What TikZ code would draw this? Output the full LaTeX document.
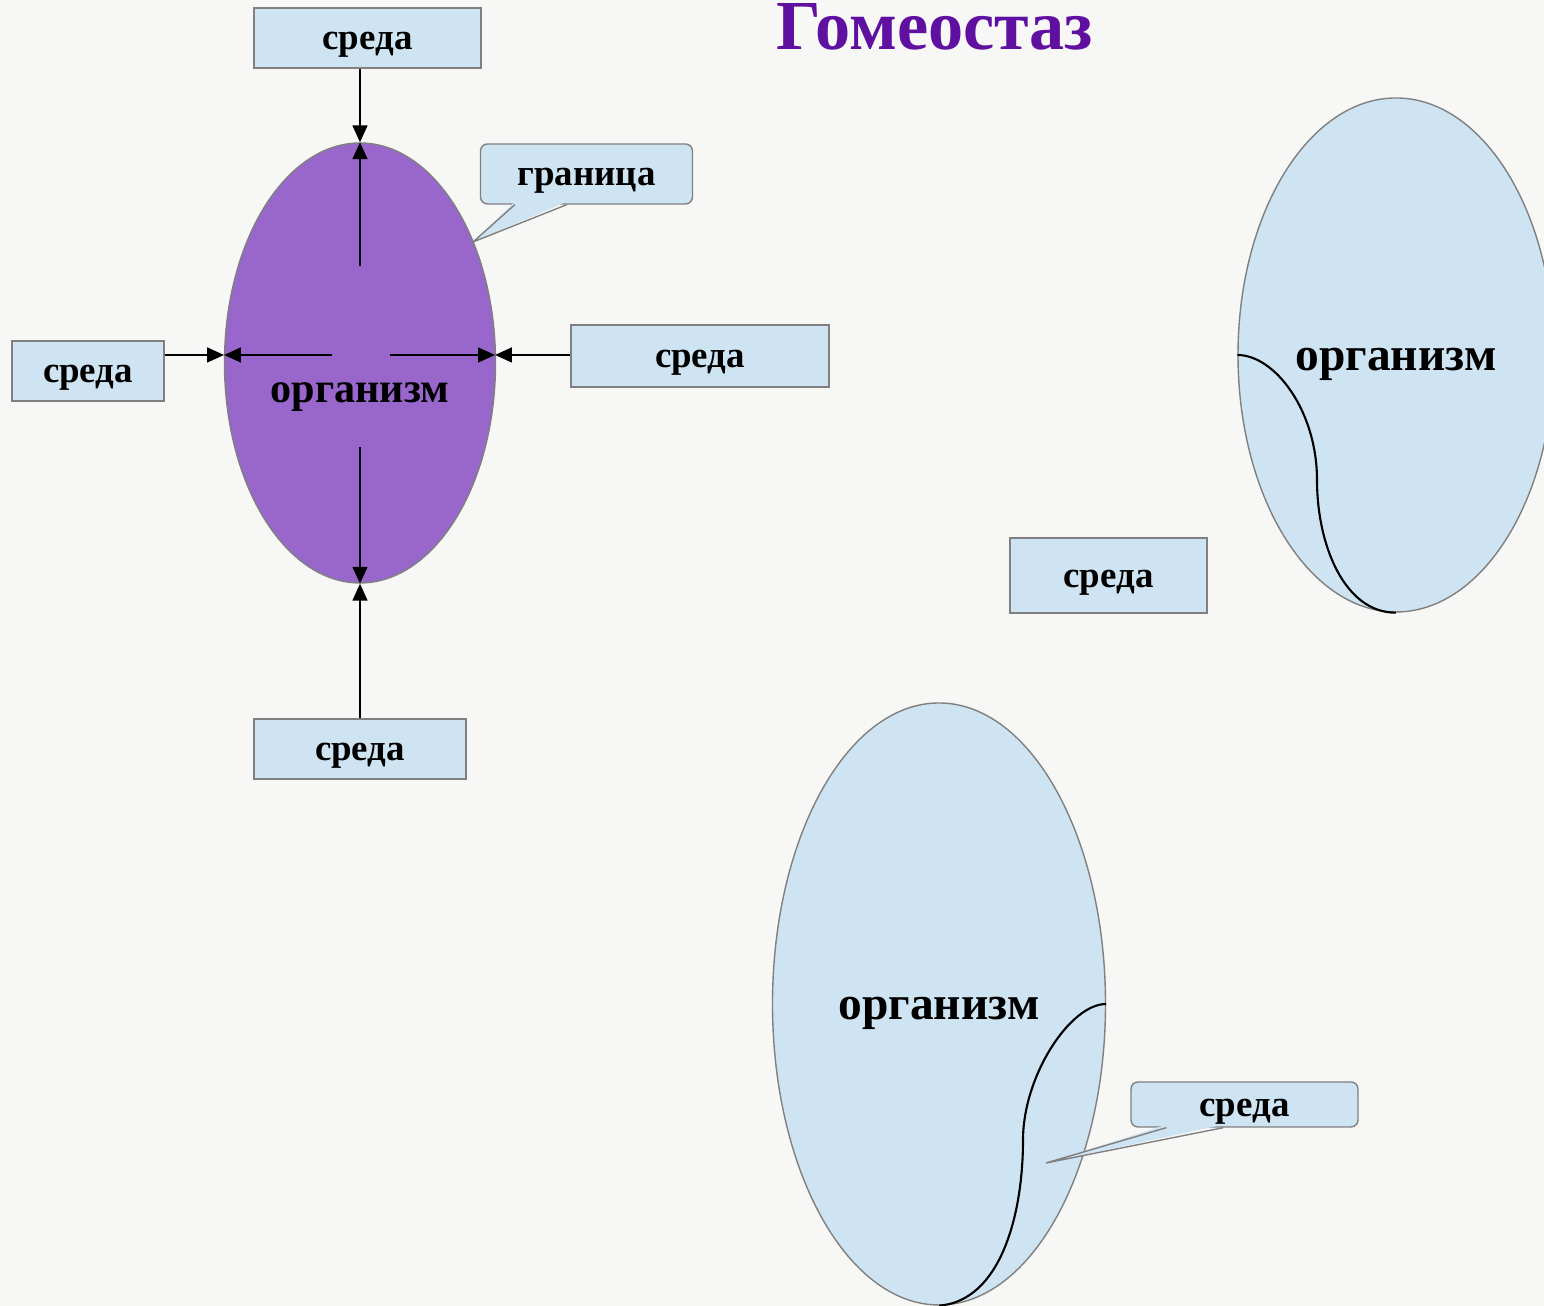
\documentclass[tikz,border=0pt]{standalone}
\usepackage{fontspec}
\setmainfont{Liberation Serif}
\usepackage{xcolor}
\definecolor{hsback}{RGB}{247,247,246}
\definecolor{hsblue}{RGB}{207,228,242}
\definecolor{hsline}{RGB}{128,128,128}
\definecolor{hsviolet}{RGB}{153,102,204}
\definecolor{hstitle}{RGB}{96,16,160}
\usetikzlibrary{arrows.meta,positioning,calc,shapes.geometric}

\begin{document}
\begin{tikzpicture}[
  env/.style={draw=hsline, fill=hsblue, line width=0.4pt, inner sep=0pt, text height=9.4pt, text depth=2.6pt, font=\fontsize{10.5}{12}\selectfont\bfseries},
  org/.style={draw=hsline, fill=hsblue, ellipse, line width=0.4pt, inner sep=0pt},
  orgtxt/.style={anchor=base, inner sep=0pt, font=\fontsize{13.5}{16}\selectfont\bfseries},
  tip/.style={-{Triangle[length=4.8pt, width=4.2pt]}, line width=0.6pt},
  curveline/.style={line width=0.6pt}
]
  %% Background and page size
  \fill[hsback] (0,0) rectangle (15.44,13.06);
  \useasboundingbox (0,0) rectangle (15.44,13.06);

  %% Title
  \node[anchor=base, inner sep=0pt, text=hstitle, font=\fontsize{20}{24}\selectfont\bfseries] (title) at (9.35,12.56) {Гомеостаз};

  %% Organism with its boundary (left)
  \node[org, fill=hsviolet, minimum width=2.71cm, minimum height=4.40cm] (orgA) at (3.60,9.43) {};
  \node[orgtxt, font=\fontsize{12}{14}\selectfont\bfseries] (orgAtxt) at (3.60,9.03) {организм};

  \node[env, minimum width=2.27cm, minimum height=0.60cm] (envT) at (3.675,12.68) {среда};
  \node[env, minimum width=1.52cm, minimum height=0.60cm] (envL) at (0.88,9.35) {среда};
  \node[env, minimum width=2.58cm, minimum height=0.62cm] (envR) at (7.00,9.50) {среда};
  \node[env, minimum width=2.12cm, minimum height=0.60cm] (envB) at (3.60,5.57) {среда};

  %% Exchange arrows across the boundary
  \coordinate (inT) at (3.60,10.40);
  \coordinate (inB) at (3.60,8.59);
  \coordinate (pL) at (2.24,9.51);
  \coordinate (pR) at (4.95,9.51);
  \coordinate (inL) at (3.32,9.51);
  \coordinate (inR) at (3.90,9.51);
  \draw[tip] (envT.south -| orgA.north) -- (orgA.north);
  \draw[tip] (inT) -- (orgA.north);
  \draw[tip] (envB.north -| orgA.south) -- (orgA.south);
  \draw[tip] (inB) -- (orgA.south);
  \draw[tip] (envL.east |- pL) -- (pL);
  \draw[tip] (inL) -- (pL);
  \draw[tip] (envR.west |- pR) -- (pR);
  \draw[tip] (inR) -- (pR);

  %% Callout: boundary
  \node[env, rounded corners=2pt, minimum width=2.12cm, minimum height=0.60cm] (bnd) at (5.865,11.32) {граница};
  \coordinate (bndtip) at (4.73,10.64);
  \fill[hsblue] ($(bnd.south west)+(0.35,0.03)$) -- (bndtip) -- ($(bnd.south west)+(0.87,0.03)$) -- cycle;
  \draw[hsline, line width=0.4pt] ($(bnd.south west)+(0.35,0)$) -- (bndtip) -- ($(bnd.south west)+(0.87,0)$);

  %% Organism (right) with environment outside
  \node[org, minimum width=3.16cm, minimum height=5.14cm] (orgR) at (13.96,9.51) {};
  \node[orgtxt] (orgRtxt) at (13.96,9.35) {организм};
  \draw[curveline] (orgR.west) .. controls (12.75,9.51) and (13.17,8.95) .. (13.17,8.26) .. controls (13.17,7.6) and (13.45,6.93) .. (orgR.south);
  \node[env, minimum width=1.97cm, minimum height=0.75cm] (envM) at (11.085,7.305) {среда};

  %% Organism (bottom) with environment inside
  \node[org, minimum width=3.33cm, minimum height=6.02cm] (orgB) at (9.39,3.02) {};
  \node[orgtxt] (orgBtxt) at (9.39,2.86) {организм};
  \draw[curveline] (orgB.east) .. controls (10.7,3.02) and (10.23,2.3) .. (10.23,1.66) .. controls (10.23,0.9) and (10.0,0.05) .. (orgB.south);

  %% Callout: environment
  \node[env, rounded corners=2pt, minimum width=2.27cm, minimum height=0.45cm] (envC) at (12.445,2.015) {среда};
  \coordinate (envCtip) at (10.46,1.43);
  \fill[hsblue] ($(envC.south west)+(0.36,0.03)$) -- (envCtip) -- ($(envC.south west)+(0.93,0.03)$) -- cycle;
  \draw[hsline, line width=0.4pt] ($(envC.south west)+(0.36,0)$) -- (envCtip) -- ($(envC.south west)+(0.93,0)$);
\end{tikzpicture}
\end{document}
